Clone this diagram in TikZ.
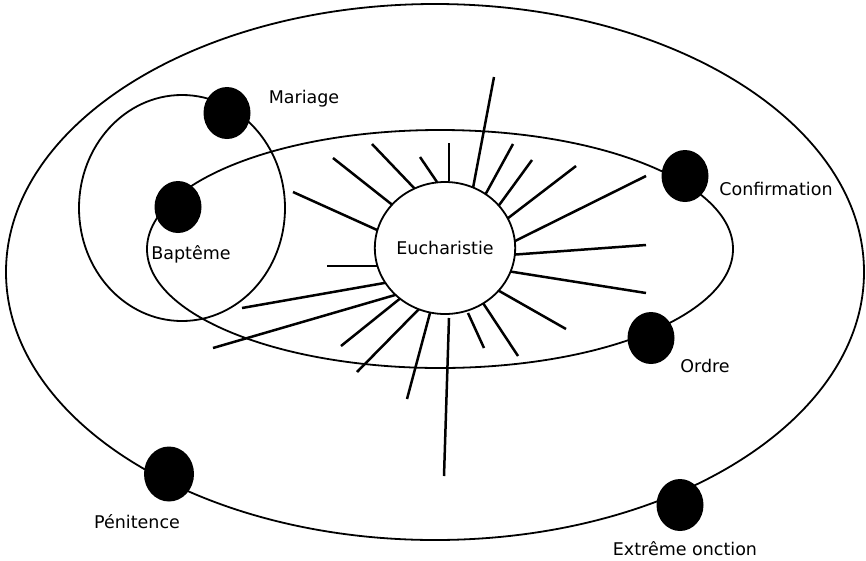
\documentclass[tikz,border=0pt]{standalone}
\usepackage{fontspec}
\setmainfont{DejaVu Sans}
\usetikzlibrary{shapes.geometric}

\tikzset{
  orbit/.style={line width=1.8pt},
  sacrament/.style={ellipse, fill=black, inner sep=0pt, minimum width=47pt, minimum height=52pt},
  ray/.style={line width=2.5pt},
  sacname/.style={font=\fontsize{17.5}{20}\selectfont, inner sep=1pt},
}

\begin{document}
\begin{tikzpicture}[x=1pt,y=-1pt]
    \useasboundingbox (0,0) rectangle (866,560);

    % Orbits
    \draw[orbit] (435,272) ellipse (429 and 268); % outer
    \draw[orbit] (440,249) ellipse (293 and 119); % inner
    \draw[orbit] (182,208) ellipse (103 and 113); % Mariage

    % Rays round the centre
    \foreach \xa/\ya/\xb/\yb in {293/192/386/234, 333/158/395/207, 372/144/415/189,
        420/157/437/182, 449/143/449/181, 494/77/473/188, 513/144/484/197,
        532/160/497/208, 576/166/503/222, 646/176/509/244, 646/245/509/255,
        646/293/507/271, 566/329/494/288, 518/356/483/303, 484/348/468/313,
        444/476/449/318, 407/399/430/313, 357/372/419/309, 341/346/402/297,
        213/348/402/293, 242/308/390/282, 327/266/384/266}
        \draw[ray] (\xa,\ya) -- (\xb,\yb);

    % Centre
    \node[draw, ellipse, fill=white, line width=1.8pt, minimum width=125pt,
          minimum height=132pt, inner sep=0pt, sacname] (euch) at (445,248) {Eucharistie};

    % Sacraments on the orbits
    \node[sacrament] (mariage) at (227,113) {};
    \node[sacrament] (bapteme) at (178,207) {};
    \node[sacrament] (confirm) at (685,176) {};
    \node[sacrament] (ordre) at (651,338) {};
    \node[sacrament, minimum width=50pt, minimum height=55pt] (penit) at (169,474) {};
    \node[sacrament] (extreme) at (680,505) {};

    % Names
    \node[sacname] (mariage-lbl) at (304,99) {Mariage};
    \node[sacname] (bapteme-lbl) at (191,254) {Baptême};
    \node[sacname] (confirm-lbl) at (776,189) {Confirmation};
    \node[sacname] (ordre-lbl) at (705,366) {Ordre};
    \node[sacname] (penit-lbl) at (137,522) {Pénitence};
    \node[sacname] (extreme-lbl) at (685,549) {Extrême onction};
\end{tikzpicture}
\end{document}
